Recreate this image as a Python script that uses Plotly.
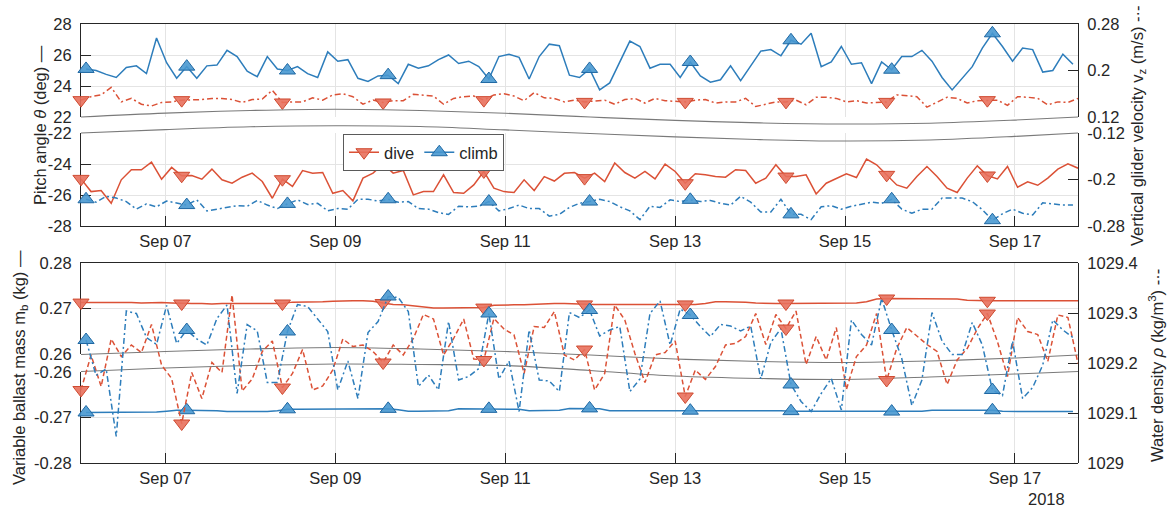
import pandas as pd
import plotly.graph_objects as go

# ---------------- data ----------------
T0 = "2018-09-06 00:10"
STEP_S = 10242  # seconds between successive dives

pitch_climb = [25.1, 25.0, 24.75, 24.55, 25.2, 25.3, 24.8, 27.1, 25.5, 24.5,
               25.25, 24.5, 25.3, 25.35, 26.3, 25.9, 24.95, 24.6, 25.9, 25.1,
               25.0, 25.25, 24.8, 24.55, 26.2, 25.6, 25.7, 24.5, 24.3, 24.65,
               24.7, 24.15, 25.4, 25.15, 25.3, 25.7, 26.0, 25.45, 25.6, 25.25,
               24.45, 25.9, 26.05, 25.85, 24.45, 25.9, 26.7, 26.6, 24.7, 24.55,
               25.1, 23.75, 24.2, 25.55, 26.9, 26.55, 25.15, 25.4, 25.4, 24.55,
               25.55, 24.65, 24.25, 24.4, 25.3, 24.35, 25.3, 26.25, 26.35, 25.95,
               26.95, 26.7, 27.4, 25.25, 25.55, 26.55, 25.4, 25.5, 24.15, 25.55,
               25.05, 25.9, 25.9, 26.3, 25.6, 24.55, 23.75, 24.5, 25.25, 26.45,
               27.4, 26.55, 25.6, 26.45, 26.35, 24.9, 25.0, 26.05, 25.4]

vz_dive = [0.149, 0.155, 0.158, 0.171, 0.146, 0.152, 0.142, 0.139, 0.145, 0.146,
           0.149, 0.149, 0.150, 0.152, 0.152, 0.150, 0.145, 0.150, 0.151, 0.166,
           0.145, 0.146, 0.146, 0.153, 0.149, 0.158, 0.160, 0.155, 0.142, 0.149,
           0.145, 0.148, 0.148, 0.159, 0.158, 0.156, 0.142, 0.152, 0.155, 0.156,
           0.149, 0.158, 0.160, 0.156, 0.148, 0.162, 0.153, 0.152, 0.146, 0.149,
           0.146, 0.148, 0.149, 0.142, 0.150, 0.152, 0.144, 0.152, 0.148, 0.147,
           0.146, 0.149, 0.150, 0.144, 0.146, 0.146, 0.152, 0.138, 0.142, 0.146,
           0.146, 0.149, 0.141, 0.154, 0.154, 0.152, 0.146, 0.148, 0.144, 0.145,
           0.146, 0.158, 0.157, 0.155, 0.137, 0.146, 0.154, 0.152, 0.144, 0.148,
           0.149, 0.149, 0.140, 0.155, 0.154, 0.152, 0.141, 0.146, 0.145, 0.152]

pitch_dive = [-24.96, -25.78, -25.71, -26.53, -25.02, -24.37, -24.37, -23.88, -24.98, -24.22,
              -24.76, -24.74, -24.98, -24.33, -25.02, -25.24, -24.85, -24.59, -25.13, -26.21,
              -24.98, -25.45, -24.42, -24.59, -24.55, -25.89, -25.71, -26.38, -24.91, -24.59,
              -23.99, -24.59, -24.42, -25.99, -25.78, -25.78, -24.70, -25.84, -25.89, -25.35,
              -24.48, -25.56, -25.78, -25.84, -25.02, -25.71, -24.81, -25.10, -24.60, -24.55,
              -24.91, -24.59, -25.13, -23.94, -24.55, -24.91, -24.48, -24.96, -24.01, -24.48,
              -25.24, -24.63, -24.70, -24.81, -24.85, -24.37, -24.42, -25.24, -24.91, -24.05,
              -24.81, -24.81, -24.70, -25.93, -25.24, -24.96, -24.63, -24.87, -23.68, -24.05,
              -24.70, -25.35, -25.56, -24.81, -24.16, -24.81, -25.56, -25.84, -24.91, -24.12,
              -24.74, -24.96, -24.16, -25.50, -25.15, -25.37, -24.91, -24.33, -23.99, -24.27]

vz_climb = [-0.234, -0.239, -0.229, -0.232, -0.238, -0.251, -0.242, -0.247, -0.237, -0.240,
            -0.244, -0.235, -0.254, -0.251, -0.248, -0.245, -0.246, -0.236, -0.244, -0.250,
            -0.242, -0.235, -0.243, -0.241, -0.254, -0.250, -0.251, -0.234, -0.234, -0.237,
            -0.234, -0.239, -0.238, -0.250, -0.251, -0.257, -0.260, -0.246, -0.247, -0.246,
            -0.238, -0.254, -0.250, -0.244, -0.250, -0.250, -0.263, -0.260, -0.248, -0.241,
            -0.238, -0.234, -0.238, -0.247, -0.254, -0.269, -0.246, -0.248, -0.235, -0.238,
            -0.235, -0.238, -0.236, -0.241, -0.244, -0.229, -0.239, -0.256, -0.256, -0.234,
            -0.260, -0.260, -0.269, -0.247, -0.245, -0.251, -0.246, -0.242, -0.239, -0.241,
            -0.234, -0.251, -0.258, -0.251, -0.251, -0.232, -0.232, -0.232, -0.238, -0.252,
            -0.270, -0.259, -0.251, -0.258, -0.261, -0.240, -0.242, -0.244, -0.244]

mb_dive = [0.2713, 0.2713, 0.2714, 0.2713, 0.2713, 0.2713, 0.2712, 0.2713, 0.2713, 0.2712,
           0.2711, 0.2711, 0.2711, 0.2710, 0.2711, 0.2711, 0.2711, 0.2712, 0.2711, 0.2711,
           0.2711, 0.2714, 0.2714, 0.2714, 0.2715, 0.2716, 0.2717, 0.2717, 0.2717, 0.2716,
           0.2712, 0.2709, 0.2708, 0.2706, 0.2703, 0.2701, 0.2701, 0.2701, 0.2701, 0.2701,
           0.2702, 0.2707, 0.2708, 0.2708, 0.2708, 0.2709, 0.2711, 0.2711, 0.2711, 0.2710,
           0.2709, 0.2709, 0.2709, 0.2709, 0.2709, 0.2710, 0.2709, 0.2709, 0.2709, 0.2709,
           0.2709, 0.2709, 0.2711, 0.2715, 0.2715, 0.2715, 0.2714, 0.2712, 0.2711, 0.2711,
           0.2711, 0.2711, 0.2711, 0.2711, 0.2711, 0.2712, 0.2712, 0.2712, 0.2715, 0.2721,
           0.2722, 0.2722, 0.2722, 0.2722, 0.2722, 0.2722, 0.2722, 0.2721, 0.2718, 0.2717,
           0.2717, 0.2717, 0.2717, 0.2717, 0.2717, 0.2717, 0.2717, 0.2717, 0.2717, 0.2717]

mb_climb = [-0.2689, -0.2689, -0.2689, -0.2689, -0.2689, -0.2689, -0.2689, -0.2688, -0.2686, -0.2684,
            -0.2684, -0.2684, -0.2684, -0.2685, -0.2687, -0.2687, -0.2687, -0.2687, -0.2687, -0.2685,
            -0.2682, -0.2682, -0.2682, -0.2682, -0.2682, -0.2681, -0.2681, -0.2681, -0.2681, -0.2681,
            -0.2681, -0.2683, -0.2686, -0.2686, -0.2686, -0.2686, -0.2685, -0.2681, -0.2681, -0.2681,
            -0.2681, -0.2681, -0.2681, -0.2682, -0.2685, -0.2685, -0.2685, -0.2684, -0.2680, -0.2680,
            -0.2680, -0.2681, -0.2685, -0.2685, -0.2685, -0.2685, -0.2685, -0.2685, -0.2685, -0.2685,
            -0.2685, -0.2685, -0.2685, -0.2685, -0.2684, -0.2684, -0.2684, -0.2684, -0.2684, -0.2685,
            -0.2686, -0.2686, -0.2686, -0.2686, -0.2687, -0.2687, -0.2687, -0.2687, -0.2687, -0.2687,
            -0.2687, -0.2687, -0.2687, -0.2686, -0.2684, -0.2684, -0.2684, -0.2684, -0.2684, -0.2684,
            -0.2684, -0.2686, -0.2687, -0.2687, -0.2687, -0.2687, -0.2687, -0.2687, -0.2687]

rho_dive = [1029.146, 1029.216, 1029.153, 1029.248, 1029.213, 1029.236, 1029.221, 1029.277, 1029.196, 1029.169,
            1029.079, 1029.181, 1029.129, 1029.201, 1029.181, 1029.336, 1029.144, 1029.168, 1029.223, 1029.244,
            1029.151, 1029.179, 1029.227, 1029.146, 1029.154, 1029.186, 1029.248, 1029.233, 1029.236, 1029.223,
            1029.201, 1029.236, 1029.216, 1029.249, 1029.297, 1029.288, 1029.216, 1029.249, 1029.288, 1029.208,
            1029.206, 1029.289, 1029.268, 1029.256, 1029.179, 1029.273, 1029.271, 1029.303, 1029.216, 1029.206,
            1029.227, 1029.146, 1029.179, 1029.316, 1029.286, 1029.219, 1029.161, 1029.216, 1029.221, 1029.244,
            1029.133, 1029.186, 1029.167, 1029.193, 1029.236, 1029.239, 1029.253, 1029.299, 1029.237, 1029.297,
            1029.269, 1029.304, 1029.197, 1029.253, 1029.206, 1029.271, 1029.147, 1029.213, 1029.236, 1029.299,
            1029.166, 1029.229, 1029.271, 1029.253, 1029.237, 1029.223, 1029.157, 1029.206, 1029.229, 1029.268,
            1029.299, 1029.243, 1029.173, 1029.291, 1029.263, 1029.257, 1029.203, 1029.296, 1029.291, 1029.199]

rho_climb = [1029.246, 1029.175, 1029.188, 1029.053, 1029.304, 1029.299, 1029.251, 1029.237, 1029.315, 1029.239,
             1029.266, 1029.248, 1029.236, 1029.289, 1029.316, 1029.139, 1029.277, 1029.264, 1029.161, 1029.161,
             1029.263, 1029.317, 1029.313, 1029.289, 1029.263, 1029.146, 1029.204, 1029.129, 1029.261, 1029.283,
             1029.333, 1029.331, 1029.303, 1029.153, 1029.176, 1029.146, 1029.283, 1029.166, 1029.173, 1029.189,
             1029.299, 1029.168, 1029.204, 1029.103, 1029.266, 1029.166, 1029.164, 1029.143, 1029.301, 1029.291,
             1029.306, 1029.254, 1029.266, 1029.273, 1029.143, 1029.168, 1029.299, 1029.324, 1029.236, 1029.308,
             1029.296, 1029.273, 1029.253, 1029.277, 1029.274, 1029.264, 1029.274, 1029.168, 1029.241, 1029.269,
             1029.157, 1029.123, 1029.103, 1029.139, 1029.169, 1029.106, 1029.286, 1029.257, 1029.236, 1029.329,
             1029.266, 1029.209, 1029.115, 1029.166, 1029.301, 1029.244, 1029.217, 1029.217, 1029.281, 1029.236,
             1029.146, 1029.135, 1029.244, 1029.129, 1029.151, 1029.196, 1029.286, 1029.266, 1029.251]

ref_times = ["2018-09-06 00:10", "2018-09-07", "2018-09-08", "2018-09-09", "2018-09-10",
             "2018-09-11", "2018-09-12", "2018-09-13", "2018-09-14", "2018-09-15",
             "2018-09-16", "2018-09-17", "2018-09-17 17:49"]
pitch_ref_up = [22.0, 22.25, 22.42, 22.5, 22.42, 22.24, 22.0, 21.78, 21.62, 21.55, 21.6, 21.8, 22.0]
pitch_ref_lo = [-22.0, -21.78, -21.6, -21.53, -21.58, -21.8, -22.03, -22.25, -22.43, -22.52, -22.45, -22.22, -22.0]
rho_ref_up = [1029.217, 1029.223, 1029.228, 1029.231, 1029.228, 1029.223, 1029.216, 1029.208,
              1029.203, 1029.201, 1029.204, 1029.210, 1029.216]
rho_ref_lo = [1029.183, 1029.190, 1029.195, 1029.198, 1029.197, 1029.195, 1029.185, 1029.174,
              1029.169, 1029.167, 1029.172, 1029.178, 1029.183]

t_dive = pd.date_range(T0, periods=len(pitch_dive), freq=f"{STEP_S}s")
t_climb = t_dive[:len(pitch_climb)] + pd.Timedelta(seconds=STEP_S / 2)

# ---------------- styling ----------------
FONT = "Liberation Sans, Arial, Helvetica, sans-serif"
FS = 16.5
INK = "#262626"
GRID = "#e4e4e4"
RED = "#db5136"
RED_FILL = "rgba(232,112,92,0.9)"
RED_EDGE = "#cf4a30"
BLUE = "#2d7dbb"
BLUE_FILL = "rgba(72,152,208,0.9)"
BLUE_EDGE = "#1f68a3"
GRAY = "#7a7a7a"
DASHDOT = "6px,3px,2px,3px"
DASH = "5px,3px"
MSIZE = 14

W, H = 1169, 516
PL, PR, PT, PB = 81, 1078, 24, 463


def fy(p):
    return (PB - p) / (PB - PT)


def fx(p):
    return (p - PL) / (PR - PL)


# panel geometry (pixel rows)
TOP_UP = (24, 117)
TOP_LO = (133, 226)
BOT_UP = (263, 354)
BOT_LO = (372, 463)
px_per_deg = (TOP_UP[1] - TOP_UP[0]) / 6.0
top_span = (TOP_LO[1] - TOP_UP[0]) / px_per_deg

fig = go.Figure()


def line(x, y, xa, ya, color, dash="solid", width=1.5, shape="linear"):
    fig.add_trace(go.Scatter(x=x, y=y, xaxis=xa, yaxis=ya, mode="lines",
                             line=dict(color=color, width=width, dash=dash, shape=shape),
                             showlegend=False, hoverinfo="skip"))


def marks(x, y, xa, ya, kind):
    if kind == "dive":
        m = dict(symbol="triangle-down", size=MSIZE, color=RED_FILL, line=dict(color=RED_EDGE, width=1))
    else:
        m = dict(symbol="triangle-up", size=MSIZE, color=BLUE_FILL, line=dict(color=BLUE_EDGE, width=1))
    fig.add_trace(go.Scatter(x=list(x[::10]), y=list(y[::10]), xaxis=xa, yaxis=ya, mode="markers",
                             marker=m, cliponaxis=False, showlegend=False, hoverinfo="skip"))


# gray reference curves
line(ref_times, pitch_ref_up, "x5", "y8", GRAY, width=1.1, shape="spline")
line(ref_times, pitch_ref_lo, "x5", "y9", GRAY, width=1.1, shape="spline")
line(ref_times, rho_ref_up, "x6", "y7", GRAY, width=1.1, shape="spline")
line(ref_times, rho_ref_lo, "x6", "y7", GRAY, width=1.1, shape="spline")

# top panel
line(t_climb, pitch_climb, "x4", "y4", BLUE)
line(t_dive, vz_dive, "x4", "y5", RED, dash=DASHDOT)
line(t_dive, pitch_dive, "x3", "y3", RED)
line(t_climb, vz_climb, "x3", "y6", BLUE, dash=DASHDOT)
# bottom panel
line(t_dive, mb_dive, "x2", "y2", RED)
line(t_climb, mb_climb, "x", "y", BLUE)
line(t_dive, rho_dive, "x6", "y7", RED, dash=DASH)
line(t_climb, rho_climb, "x6", "y7", BLUE, dash=DASHDOT)

marks(t_climb, pitch_climb, "x4", "y4", "climb")
marks(t_dive, vz_dive, "x4", "y5", "dive")
marks(t_dive, pitch_dive, "x3", "y3", "dive")
marks(t_climb, vz_climb, "x3", "y6", "climb")
marks(t_dive, mb_dive, "x2", "y2", "dive")
marks(t_climb, mb_climb, "x", "y", "climb")
marks(t_dive, rho_dive, "x6", "y7", "dive")
marks(t_climb, rho_climb, "x6", "y7", "climb")

# legend entries
fig.add_trace(go.Scatter(x=[None], y=[None], mode="lines+markers", name="dive",
                         line=dict(color=RED, width=1.5),
                         marker=dict(symbol="triangle-down", size=MSIZE, color=RED_FILL,
                                     line=dict(color=RED_EDGE, width=1))))
fig.add_trace(go.Scatter(x=[None], y=[None], mode="lines+markers", name="climb",
                         line=dict(color=BLUE, width=1.5),
                         marker=dict(symbol="triangle-up", size=MSIZE, color=BLUE_FILL,
                                     line=dict(color=BLUE_EDGE, width=1))))

tf = dict(family=FONT, size=FS, color=INK)
xr = [t_dive[0], t_dive[-1]]
xbase = dict(type="date", range=xr, tickmode="linear", tick0="2018-09-07",
             dtick=2 * 86400000, tickformat="%b %d", showgrid=True, gridcolor=GRID,
             gridwidth=1, zeroline=False, linecolor=INK, linewidth=1, tickcolor=INK,
             tickfont=tf, layer="below traces", automargin=False)
xlab = dict(showline=True, ticks="inside", ticklen=10, showticklabels=True, ticklabelstandoff=0)
xtopline = dict(showline=True, side="top", ticks="", showticklabels=False)
xhidden = dict(visible=False, showgrid=False)

ybase = dict(showline=True, linecolor=INK, linewidth=1, ticks="inside", ticklen=10,
             tickcolor=INK, zeroline=False, tickfont=tf, layer="below traces",
             ticklabelstandoff=5, automargin=False)

fig.update_layout(
    width=W, height=H, template="none",
    paper_bgcolor="white", plot_bgcolor="rgba(0,0,0,0)",
    margin=dict(l=PL, r=W - PR, t=PT, b=H - PB, pad=0),
    font=dict(family=FONT, size=FS, color=INK),
    xaxis=dict(**xbase, **xlab, anchor="y"),
    xaxis2=dict(**xbase, **xtopline, anchor="y2", matches="x"),
    xaxis3=dict(**xbase, **xlab, anchor="y3", matches="x"),
    xaxis4=dict(**xbase, **xtopline, anchor="y4", matches="x"),
    xaxis5=dict(type="date", range=xr, anchor="y8", matches="x", **xhidden),
    xaxis6=dict(type="date", range=xr, anchor="y7", matches="x", **xhidden),
    yaxis=dict(**ybase, domain=[fy(BOT_LO[1]), fy(BOT_LO[0])], range=[-0.28, -0.26], anchor="x",
               tickvals=[-0.28, -0.27, -0.26], ticktext=["-0.28", "-0.27", "-0.26"],
               showgrid=True, gridcolor=GRID),
    yaxis2=dict(**ybase, domain=[fy(BOT_UP[1]), fy(BOT_UP[0])], range=[0.26, 0.28], anchor="x2",
                tickvals=[0.26, 0.27, 0.28], ticktext=["0.26", "0.27", "0.28"],
                showgrid=True, gridcolor=GRID),
    yaxis3=dict(**ybase, domain=[fy(TOP_LO[1]), fy(TOP_LO[0])], range=[-28, -22], anchor="x3",
                tickvals=[-28, -26, -24, -22], ticktext=["-28", "-26", "-24", "-22"],
                showgrid=True, gridcolor=GRID),
    yaxis4=dict(**ybase, domain=[fy(TOP_UP[1]), fy(TOP_UP[0])], range=[22, 28], anchor="x4",
                tickvals=[22, 24, 26, 28], ticktext=["22", "24", "26", "28"],
                showgrid=True, gridcolor=GRID),
    yaxis5=dict(**ybase, overlaying="y4", side="right", anchor="x4", range=[0.12, 0.28],
                tickvals=[0.12, 0.2, 0.28], ticktext=["0.12", "0.2", "0.28"], showgrid=False),
    yaxis6=dict(**ybase, overlaying="y3", side="right", anchor="x3", range=[-0.28, -0.12],
                tickvals=[-0.28, -0.2, -0.12], ticktext=["-0.28", "-0.2", "-0.12"], showgrid=False),
    yaxis7=dict(**ybase, domain=[fy(BOT_LO[1]), fy(BOT_UP[0])], side="right", anchor="x6",
                range=[1029.0, 1029.4], tickvals=[1029.0, 1029.1, 1029.2, 1029.3, 1029.4],
                ticktext=["1029", "1029.1", "1029.2", "1029.3", "1029.4"], showgrid=False),
    yaxis8=dict(domain=[fy(TOP_LO[1]), fy(TOP_UP[0])], anchor="x5", range=[28 - top_span, 28],
                visible=False, showgrid=False),
    yaxis9=dict(overlaying="y8", anchor="x5", range=[-28, -28 + top_span],
                visible=False, showgrid=False),
    legend=dict(orientation="h", x=fx(343), y=fy(134), xanchor="left", yanchor="top",
                bgcolor="white", bordercolor="#5a5a5a", borderwidth=1,
                font=dict(family=FONT, size=FS, color=INK), itemwidth=30,
                tracegroupgap=0),
    showlegend=True,
)

ann = [
    dict(text="Pitch angle <i>θ</i> (deg) —", x=fx(40), y=fy(125), textangle=-90),
    dict(text="Vertical glider velocity v<sub>z</sub> (m/s) -·-", x=fx(1138), y=fy(126), textangle=-90),
    dict(text="Variable ballast mass m<sub>b</sub> (kg) —", x=fx(20), y=fy(368), textangle=-90),
    dict(text="Water density <i>ρ</i> (kg/m<sup>3</sup>) -·-", x=fx(1156), y=fy(366), textangle=-90),
    dict(text="2018", x=fx(1046), y=fy(499), textangle=0),
]
for a in ann:
    fig.add_annotation(xref="paper", yref="paper", showarrow=False, xanchor="center",
                       yanchor="middle", font=dict(family=FONT, size=FS, color=INK), **a)

fig.write_html("out.html")
